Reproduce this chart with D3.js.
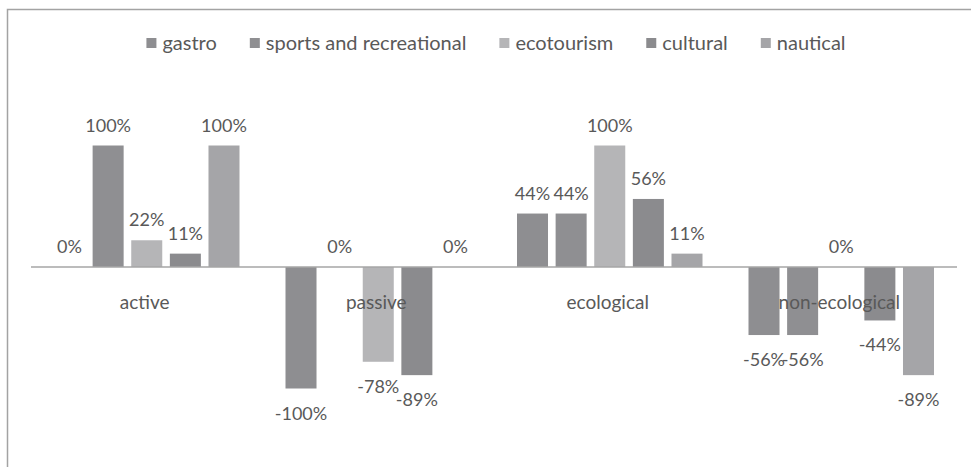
<!DOCTYPE html>
<html>
<head>
<meta charset="utf-8">
<script src="https://cdn.jsdelivr.net/npm/d3@7"></script>
<style>
  body { margin: 0; background: #fff; }
  svg text { font-family: Lato, "Open Sans", sans-serif; fill: #595959; }
</style>
</head>
<body>
<div id="chart"></div>
<script>
// categories and series
var categories = ["active", "passive", "ecological", "non-ecological"];
var series = ["gastro", "sports and recreational", "ecotourism", "cultural", "nautical"];
var colors = ["#8e8e91", "#8f8f92", "#b5b5b7", "#8b8b8e", "#a5a5a8"];

// one array of values per series (share, -1..1)
var gastro   = [0,    -1.00,  0.44, -0.56];
var sports   = [1.00,  0,     0.44, -0.56];
var ecotour  = [0.22, -0.78,  1.00,  0];
var cultural = [0.11, -0.89,  0.56, -0.44];
var nautical = [1.00,  0,     0.11, -0.89];

var values = [gastro, sports, ecotour, cultural, nautical];

var width = 971, height = 467;

var svg = d3.select("#chart").append("svg")
    .attr("width", width)
    .attr("height", height);

// chart frame (only top and left edges show in the crop)
svg.append("path")
    .attr("d", "M7.5,467V9.5H971")
    .attr("fill", "none")
    .attr("stroke", "#a3a3a3")
    .attr("stroke-width", 1.5);

var x0 = d3.scaleBand().domain(categories).range([31, 957]);
var x1 = d3.scaleBand().domain(series)
    .range([23, x0.bandwidth() - 23])
    .paddingInner(0.197);
var y = d3.scaleLinear().domain([-1, 1]).range([388.5, 145.5]);

// plain hyphen for negatives, like the original
function fmt(v) { return Math.round(v * 100) + "%"; }

// flatten into one record per bar
var bars = [];
categories.forEach(function(c, i) {
  series.forEach(function(s, j) {
    bars.push({cat: c, ser: s, idx: j, v: values[j][i]});
  });
});

var g = svg.append("g");

g.selectAll(".bar")
  .data(bars.filter(function(d) { return d.v !== 0; }))
  .enter().append("rect")
    .attr("class", "bar")
    .attr("x", function(d) { return x0(d.cat) + x1(d.ser); })
    .attr("width", x1.bandwidth())
    .attr("y", function(d) { return Math.min(y(0), y(d.v)); })
    .attr("height", function(d) { return Math.abs(y(d.v) - y(0)); })
    .attr("fill", function(d) { return colors[d.idx]; });

// zero axis line
svg.append("line")
    .attr("x1", x0.range()[0]).attr("x2", x0.range()[1])
    .attr("y1", y(0)).attr("y2", y(0))
    .attr("stroke", "#a6a6a6")
    .attr("stroke-width", 1.5);

// value labels
g.selectAll(".val")
  .data(bars)
  .enter().append("text")
    .attr("class", "val")
    .attr("text-anchor", "middle")
    .attr("font-size", "18px")
    .attr("x", function(d) { return x0(d.cat) + x1(d.ser) + x1.bandwidth() / 2; })
    .attr("y", function(d) { return d.v < 0 ? y(d.v) + 31 : y(d.v) - 14; })
    .text(function(d) { return fmt(d.v); });

// category labels, drawn over the bars
svg.selectAll(".cat")
  .data(categories)
  .enter().append("text")
    .attr("class", "cat")
    .attr("text-anchor", "middle")
    .attr("font-size", "19px")
    .attr("x", function(d) { return x0(d) + x0.bandwidth() / 2 - 2; })
    .attr("y", 309)
    .text(function(d) { return d; });

// legend, centred
var legend = svg.append("g").attr("class", "legend");
var items = legend.selectAll("g")
  .data(series)
  .enter().append("g");

items.append("rect")
    .attr("width", 10).attr("height", 10)
    .attr("y", 38)
    .attr("fill", function(d, i) { return colors[i]; });

items.append("text")
    .attr("x", 16)
    .attr("y", 50)
    .attr("font-size", "20px")
    .text(function(d) { return d; });

var pos = 0;
items.each(function() {
  var w = d3.select(this).select("text").node().getComputedTextLength();
  d3.select(this).attr("transform", "translate(" + pos + ",0)");
  pos += 16 + w + 33;
});
var total = pos - 33;
legend.attr("transform", "translate(" + (496 - total / 2) + ",0)");
</script>
</body>
</html>
